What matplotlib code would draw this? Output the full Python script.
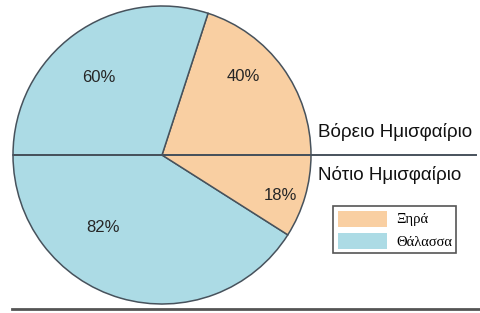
import numpy as np
import matplotlib.pyplot as plt

# hemisphere shares (percent of each half)
north = [40, 60]   # land, sea
south = [82, 18]   # sea, land
labels = ["Ξηρά", "Θάλασσα"]
hemi_names = ["Βόρειο Ημισφαίριο", "Νότιο Ημισφαίριο"]

land_c = "#f9cfa2"
sea_c = "#acdbe5"
edge_c = "#47525c"

plt.rcParams['font.family'] = ['Liberation Sans', 'DejaVu Sans']

fig = plt.figure(figsize=(4.8, 3.13), dpi=100)
ax = fig.add_axes([0, 0, 1, 1])

cx, cy, r = 162, 158, 149

# each half is 50% of the whole circle
vals = [north[0] / 2, north[1] / 2, south[0] / 2, south[1] / 2]
cols = [land_c, sea_c, sea_c, land_c]
wedges, texts, autotexts = ax.pie(
    vals, colors=cols, startangle=0, center=(cx, cy), radius=r,
    autopct=lambda p: f"{round(2 * p)}%", pctdistance=0.7,
    wedgeprops=dict(edgecolor=edge_c, linewidth=1.1),
    textprops=dict(fontsize=12, color="#262626"), frame=True)
ax.set_xlim(0, 480)
ax.set_ylim(0, 313)
ax.set_aspect('equal')
ax.axis('off')

# move percent labels to where the original puts them (distance, angle)
spots = [(0.76, 44), (0.67, 129), (0.63, 231), (0.84, -19)]
for t, (d, a) in zip(autotexts, spots):
    t.set_position((cx + d * r * np.cos(np.radians(a)),
                    cy + d * r * np.sin(np.radians(a))))

# equator line and bottom rule
ax.plot([14, 476], [cy, cy], color=edge_c, lw=1.4)
ax.plot([12, 480], [4, 4], color="#555555", lw=2)

ax.text(318, cy + 18, hemi_names[0], fontsize=13.5, ha='left', va='baseline', color="#111111")
ax.text(318, cy - 25, hemi_names[1], fontsize=13.5, ha='left', va='baseline', color="#111111")

leg = ax.legend([wedges[0], wedges[1]], labels, loc='upper left',
                bbox_to_anchor=(326 / 480, 114 / 313),
                handlelength=3.4, handleheight=1.3, handletextpad=0.6,
                borderpad=0.3, labelspacing=0.45, fancybox=False,
                edgecolor="#555555", framealpha=1,
                prop=dict(family='Liberation Serif', size=10.5))
for h in leg.legend_handles:
    h.set_edgecolor('none')
leg.get_frame().set_linewidth(1.2)

fig.savefig("out.png", dpi=100)
